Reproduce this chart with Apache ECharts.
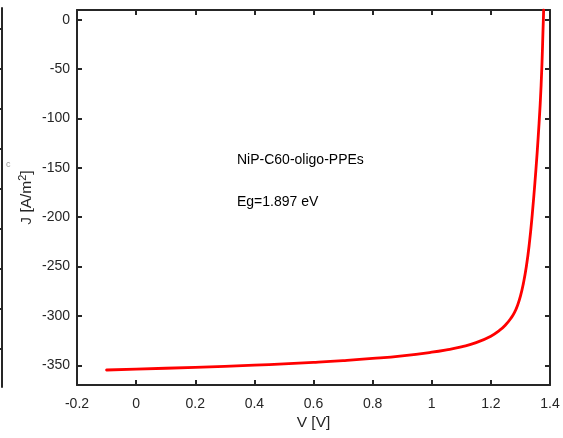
<!DOCTYPE html>
<html>
<head>
<meta charset="utf-8">
<script src="https://cdn.jsdelivr.net/npm/echarts@6/dist/echarts.min.js"></script>
<style>
  html, body { margin: 0; padding: 0; background: #fff; }
  #chart { width: 563px; height: 438px; }
</style>
</head>
<body>
<div id="chart"></div>
<script>
// J-V characteristic of the NiP-C60-oligo-PPEs cell
const voltage = [-0.1, 0.0, 0.2, 0.4, 0.5, 0.6, 0.7, 0.8, 0.9, 1.0,
                 1.05, 1.1, 1.15, 1.2, 1.23, 1.25, 1.27, 1.28, 1.29, 1.30,
                 1.31, 1.32, 1.33, 1.34, 1.35, 1.36, 1.37, 1.3775, 1.3785];
const currentDensity = [-354.8, -353.9, -352.1, -349.9, -348.6, -347.1, -345.3, -343.1, -340.4, -336.8,
                        -334.4, -331.3, -327.1, -320.5, -314.5, -309.0, -301.5, -296.5, -289.5, -280.0,
                        -267.0, -250.0, -227.0, -197.0, -161.0, -119.0, -66.0, 0, 10];

const xTicks = [-0.2, 0, 0.2, 0.4, 0.6, 0.8, 1, 1.2, 1.4];
const yTicks = [0, -50, -100, -150, -200, -250, -300, -350];
const seriesName = 'NiP-C60-oligo-PPEs';
const gapLabel = 'Eg=1.897 eV';

// neighbouring panel's right edge, partially visible at the left border
const edgeTicks = [38.7, 78.6, 118.5, 158.4, 198.3, 238.2, 278.1, 318.0, 357.9];

const ink = '#262626';
const font = 'Liberation Sans, Arial, Helvetica, sans-serif';

const chart = echarts.init(document.getElementById('chart'), null, { renderer: 'canvas' });

const boxAxisX = (pos, show) => ({
  type: 'value', position: pos, gridIndex: 0,
  min: -0.2, max: 1.4, interval: 0.2,
  axisLine: { show: true, onZero: false, lineStyle: { color: ink, width: 2 } },
  axisTick: { show: true, inside: true, length: 5, lineStyle: { color: ink, width: 2 } },
  splitLine: { show: false },
  axisLabel: {
    show: show, margin: 12, color: ink, fontSize: 14, fontFamily: font,
    formatter: v => String(xTicks.find(t => Math.abs(t - v) < 1e-9) ?? parseFloat(v.toFixed(1)))
  }
});

const boxAxisY = (pos, show) => ({
  type: 'value', position: pos, gridIndex: 0,
  min: -370, max: 10,
  axisLine: { show: true, onZero: false, lineStyle: { color: ink, width: 2 } },
  axisTick: { show: true, inside: true, length: 5, customValues: yTicks, lineStyle: { color: ink, width: 2 } },
  splitLine: { show: false },
  axisLabel: { show: show, margin: 7, color: ink, fontSize: 14, fontFamily: font, customValues: yTicks }
});

const xMain = boxAxisX('bottom', true);
xMain.name = 'V [V]';
xMain.nameLocation = 'middle';
xMain.nameGap = 30;
xMain.nameMoveOverlap = false;
xMain.nameTextStyle = { color: ink, fontSize: 15.5, fontFamily: font };

const yMain = boxAxisY('left', true);
yMain.name = '{b|J [A/m}{s|2}{b|]}';
yMain.nameLocation = 'middle';
yMain.nameGap = 41;
yMain.nameMoveOverlap = false;
yMain.nameTextStyle = {
  color: ink, fontSize: 15.5, fontFamily: font,
  rich: {
    b: { color: ink, fontSize: 15.5, fontFamily: font },
    s: { color: ink, fontSize: 11, fontFamily: font, verticalAlign: 'top', padding: [0, 0, 8, 0] }
  }
};

chart.setOption({
  animation: false,
  backgroundColor: '#ffffff',
  grid: [
    { left: 77, top: 10, right: 13, bottom: 53, containLabel: false },
    { left: -98, top: 8, width: 100, bottom: 51, containLabel: false }
  ],
  xAxis: [
    xMain,
    boxAxisX('top', false),
    { type: 'value', gridIndex: 1, min: 0, max: 1, show: false }
  ],
  yAxis: [
    yMain,
    boxAxisY('right', false),
    {
      type: 'value', gridIndex: 1, position: 'right', min: 0, max: 379,
      axisLine: { show: true, lineStyle: { color: ink, width: 2 } },
      axisTick: { show: true, inside: true, length: 4, customValues: edgeTicks, lineStyle: { color: ink, width: 2 } },
      axisLabel: { show: false },
      splitLine: { show: false }
    }
  ],
  series: [{
    type: 'line',
    xAxisIndex: 0, yAxisIndex: 0,
    data: voltage.map((v, i) => [v, currentDensity[i]]),
    showSymbol: false,
    smooth: 0.5,
    clip: true,
    lineStyle: { color: '#ff0000', width: 2.8, join: 'round', cap: 'round' }
  }],
  graphic: [
    { type: 'text', left: 237, top: 153, style: { text: seriesName, fill: '#000', font: '14px ' + font } },
    { type: 'text', left: 237, top: 195, style: { text: gapLabel, fill: '#000', font: '14px ' + font } },
    { type: 'text', left: 6, top: 160, style: { text: 'c', fill: '#999', font: '9px ' + font } }
  ]
});
</script>
</body>
</html>
